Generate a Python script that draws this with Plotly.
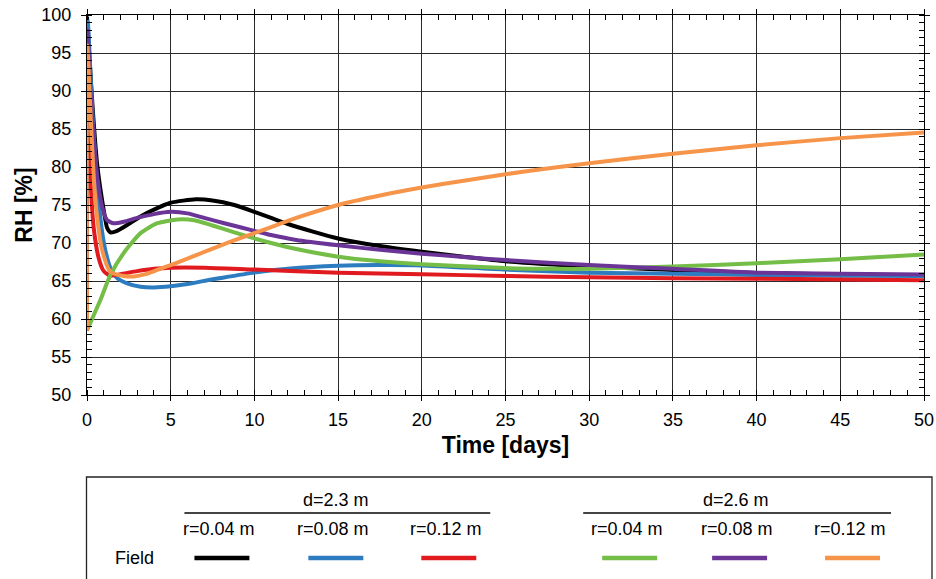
import plotly.graph_objects as go

# ---------------- data ----------------
t_black = [0, 0.05, 0.3, 0.6, 1.0, 1.2, 1.4, 1.8, 2.2, 3.2, 4, 5, 6.5, 7.5, 8.8, 10, 11, 12, 13.5, 15,
           17.5, 20, 22.5, 25, 30, 35, 40, 45, 50]
rh_black = [99.8, 98, 89, 80.5, 74.3, 72.0, 71.4, 71.6, 72.1, 73.5, 74.4, 75.3, 75.75, 75.6, 75.0, 74.1,
            73.3, 72.5, 71.5, 70.6, 69.6, 68.85, 68.2, 67.6, 66.9, 66.45, 66.05, 65.85, 65.75]

t_blue = [0, 0.05, 0.15, 0.3, 0.5, 0.7, 0.9, 1.1, 1.4, 1.8, 2.4, 3.2, 4, 5, 6, 7.2, 8, 10, 12, 15,
          17.5, 20, 25, 30, 35, 40, 45, 50]
rh_blue = [99.3, 99, 95, 88, 81, 75.5, 71.5, 69, 66.7, 65.4, 64.7, 64.25, 64.15, 64.3, 64.6, 65.1, 65.4,
           66.1, 66.6, 67.0, 67.1, 67.05, 66.5, 66.1, 65.95, 65.8, 65.7, 65.65]

t_red = [0, 0.1, 0.2, 0.4, 0.7, 1.0, 1.4, 2.0, 3.0, 4.0, 5.0, 7.0, 10, 15, 20, 25, 30, 35, 40, 45, 50]
rh_red = [96, 88, 79, 72, 68, 66.3, 65.7, 65.9, 66.3, 66.6, 66.75, 66.75, 66.5, 66.1, 65.9, 65.65, 65.5,
          65.35, 65.3, 65.2, 65.1]

t_green = [0, 0.4, 0.8, 1.4, 2.2, 3.2, 4.2, 5.4, 6.4, 7.5, 8.8, 10, 11, 12.5, 15, 17.5, 20, 25, 28, 30,
           35, 40, 45, 50]
rh_green = [58.5, 60.5, 62.5, 65.8, 68.7, 71.3, 72.6, 73.1, 73.0, 72.3, 71.4, 70.6, 70.0, 69.2, 68.2,
            67.6, 67.2, 66.7, 66.6, 66.6, 66.9, 67.35, 67.85, 68.5]

t_purple = [0, 0.03, 0.1, 0.2, 0.4, 0.6, 0.9, 1.2, 1.6, 2.2, 3.0, 4.0, 5.0, 6.0, 7.0, 8.2, 10, 11, 12.5,
            15, 17.5, 20, 22.5, 25, 30, 35, 40, 45, 50]
rh_purple = [58.5, 98, 95, 90, 84, 79, 74.8, 73.0, 72.6, 72.8, 73.3, 73.8, 74.1, 73.9, 73.3, 72.6, 71.6,
             71.05, 70.4, 69.7, 69.1, 68.6, 68.15, 67.75, 67.1, 66.6, 66.1, 65.95, 65.85]

t_orange = [0, 0.02, 0.2, 0.4, 0.6, 0.9, 1.4, 2.2, 2.8, 3.5, 4.2, 5, 6, 7.2, 8.5, 10, 11, 12.5, 15, 17.5,
            20, 22.5, 25, 27.5, 30, 35, 40, 45, 50]
rh_orange = [58.5, 96, 87.5, 78.7, 73.5, 69.1, 66.2, 65.65, 65.6, 65.9, 66.45, 67.1, 67.95, 69.0, 70.1,
             71.3, 72.1, 73.3, 75.0, 76.25, 77.3, 78.2, 79.05, 79.8, 80.5, 81.75, 82.85, 83.8, 84.55]

groups = ["d=2.3 m", "d=2.6 m"]
radii = ["r=0.04 m", "r=0.08 m", "r=0.12 m"]
row_label = "Field"
x_ticks = [0, 5, 10, 15, 20, 25, 30, 35, 40, 45, 50]
y_ticks = [50, 55, 60, 65, 70, 75, 80, 85, 90, 95, 100]

series = [
    ("d=2.3 m, r=0.04 m", t_black, rh_black, "#000000"),
    ("d=2.3 m, r=0.08 m", t_blue, rh_blue, "#2c7cbf"),
    ("d=2.3 m, r=0.12 m", t_red, rh_red, "#e01a1f"),
    ("d=2.6 m, r=0.04 m", t_green, rh_green, "#74bd47"),
    ("d=2.6 m, r=0.08 m", t_purple, rh_purple, "#6b3598"),
    ("d=2.6 m, r=0.12 m", t_orange, rh_orange, "#f6954a"),
]

W, H = 936, 579
L, R, T, B = 86.5, 12, 15, 184
FONT = "Liberation Sans, Arial, sans-serif"

fig = go.Figure()
for name, tx, ry, col in series:
    fig.add_trace(go.Scatter(x=tx, y=ry, mode="lines", name=name,
                             line=dict(color=col, width=4, shape="spline", smoothing=0.6),
                             showlegend=False))

axis_common = dict(showgrid=True, gridcolor="#2a2a2a", gridwidth=1, showline=True, linecolor="black",
                   linewidth=1.3, mirror="allticks", ticks="outside", ticklen=5, tickcolor="black",
                   tickfont=dict(family=FONT, size=18, color="black"), zeroline=False,
                   minor=dict(ticks="inside", ticklen=5, tickcolor="black", showgrid=False))

fig.update_layout(
    width=W, height=H, margin=dict(l=L, r=R, t=T, b=B, autoexpand=False),
    paper_bgcolor="white", plot_bgcolor="white",
    xaxis=dict(range=[0, 50], tickvals=x_ticks, ticklabelstandoff=3,
               title=dict(text="<b>Time [days]</b>", standoff=8,
                          font=dict(family=FONT, size=23, color="black")), **axis_common),
    yaxis=dict(range=[50, 100], tickvals=y_ticks, ticklabelstandoff=6,
               title=dict(text="<b>RH [%]</b>", standoff=2,
                          font=dict(family=FONT, size=23, color="black")), **axis_common),
)
fig.update_xaxes(minor_dtick=1, minor_tick0=0)
fig.update_yaxes(minor_dtick=1, minor_tick0=0)

# ---------------- custom legend (pixel layout converted to paper coords) ----------------
pw, ph = W - L - R, H - T - B
def px(x):
    return (x - L) / pw
def py(y):
    return (H - B - y) / ph

shapes = []
annotations = []
shapes.append(dict(type="rect", xref="paper", yref="paper", x0=px(86), x1=px(932), y0=py(477), y1=py(600),
                   line=dict(color="#222222", width=1.3), fillcolor="rgba(0,0,0,0)", layer="above"))
group_spans = [(184, 490), (583, 891)]
sample_spans = [[(194, 249), (308, 363), (421, 476)], [(602, 657), (712, 767), (825, 880)]]
LFONT = dict(family=FONT, size=18, color="black")
for gi, g in enumerate(groups):
    a, b = group_spans[gi]
    annotations.append(dict(text=g, x=px((a + b) / 2 - 1), y=py(500), xref="paper", yref="paper",
                            showarrow=False, xanchor="center", yanchor="middle", font=LFONT))
    shapes.append(dict(type="line", xref="paper", yref="paper", x0=px(a), x1=px(b), y0=py(513), y1=py(513),
                       line=dict(color="#444444", width=2)))
    for ri, r in enumerate(radii):
        s0, s1 = sample_spans[gi][ri]
        col = series[gi * 3 + ri][3]
        annotations.append(dict(text=r, x=px((s0 + s1) / 2 - 3), y=py(529), xref="paper", yref="paper",
                                showarrow=False, xanchor="center", yanchor="middle", font=LFONT))
        shapes.append(dict(type="line", xref="paper", yref="paper", x0=px(s0), x1=px(s1), y0=py(558),
                           y1=py(558), line=dict(color=col, width=4.5)))
annotations.append(dict(text=row_label, x=px(134), y=py(558), xref="paper", yref="paper", showarrow=False,
                        xanchor="center", yanchor="middle", font=LFONT))

fig.update_layout(shapes=shapes, annotations=annotations)
fig.write_html("out.html")
